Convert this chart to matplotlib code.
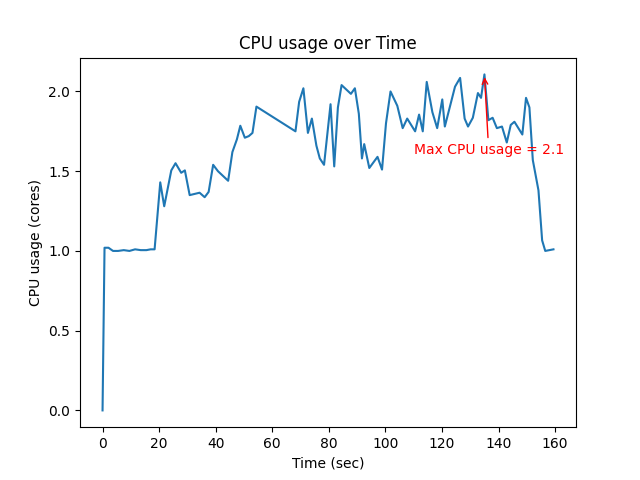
import matplotlib
matplotlib.use('Agg')
import matplotlib.pyplot as plt

# data
time_sec = [0, 0.7, 2.1, 3.7, 5.5, 7.5, 9.5, 11.5, 13.5, 15.5, 17.0, 18.4,
            20.4, 21.8, 24.3, 25.8, 27.8, 29.1, 30.8, 34.3, 36.1, 37.5, 39.1,
            40.8, 44.4, 45.9, 47.5, 48.7, 50.3, 51.7, 53.0, 54.4, 68.2, 69.5,
            71.0, 72.6, 74.0, 75.6, 76.8, 78.3, 80.6, 81.9, 83.2, 84.5, 87.8,
            89.2, 90.6, 91.7, 92.5, 94.3, 97.2, 98.8, 100.2, 101.8, 104.2,
            106.1, 107.7, 110.5, 111.9, 113.2, 114.6, 116.6, 118.3, 120.1,
            121.0, 124.6, 126.4, 128.0, 129.2, 130.9, 132.7, 133.8, 135.0,
            136.4, 137.9, 139.4, 141.2, 142.9, 144.3, 145.6, 148.4, 149.7,
            150.9, 152.1, 154.1, 155.4, 156.5, 159.4]
cpu_cores = [0.0, 1.02, 1.02, 1.0, 1.0, 1.005, 1.0, 1.01, 1.005, 1.005, 1.01, 1.01,
             1.43, 1.28, 1.505, 1.55, 1.49, 1.505, 1.35, 1.365, 1.337, 1.37, 1.54,
             1.5, 1.44, 1.62, 1.70, 1.785, 1.71, 1.72, 1.74, 1.905, 1.75, 1.935,
             2.02, 1.74, 1.83, 1.66, 1.58, 1.54, 1.92, 1.53, 1.90, 2.04, 1.985,
             2.02, 1.86, 1.58, 1.67, 1.52, 1.59, 1.51, 1.80, 2.0, 1.91,
             1.77, 1.83, 1.75, 1.855, 1.75, 2.06, 1.87, 1.77, 1.95,
             1.78, 2.03, 2.085, 1.83, 1.78, 1.835, 1.99, 1.96, 2.107,
             1.82, 1.835, 1.77, 1.78, 1.68, 1.79, 1.81, 1.73, 1.96,
             1.90, 1.57, 1.38, 1.066, 1.0, 1.01]

max_val = max(cpu_cores)
max_t = time_sec[cpu_cores.index(max_val)]

fig, ax = plt.subplots(figsize=(6.4, 4.8), dpi=100)
ax.plot(time_sec, cpu_cores)
ax.annotate(f'Max CPU usage = {max_val:.1f}', xy=(max_t, max_val),
            xytext=(max_t + 1.5, max_val - 0.5), ha='center', color='red',
            arrowprops=dict(arrowstyle='->', color='red'))
ax.set_title('CPU usage over Time')
ax.set_xlabel('Time (sec)')
ax.set_ylabel('CPU usage (cores)')
fig.savefig('out.png')
